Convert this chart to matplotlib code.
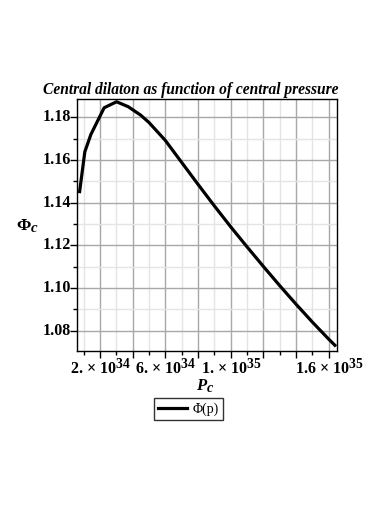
import matplotlib
matplotlib.use("Agg")
import matplotlib.pyplot as plt
from matplotlib.ticker import MultipleLocator
try:
    import matplotlib._mathtext as _mt
    _mt.SHRINK_FACTOR = 0.85
except Exception:
    pass

# Data (pressure in units of 1e34)
p_c = [0.76, 1.08, 1.45, 2.26, 3.02, 3.73, 4.50, 5.0, 6.0, 7.0, 8.0, 9.0, 10.0,
       11.0, 12.0, 13.0, 14.0, 15.0, 16.0, 16.37]
phi_c = [1.1452, 1.1639, 1.1720, 1.1845, 1.1873, 1.1850, 1.1810, 1.1776, 1.1692,
         1.1589, 1.1486, 1.1385, 1.1287, 1.1193, 1.1101, 1.1011, 1.0924, 1.0840,
         1.0760, 1.0732]
x_tick_vals = [2e34, 6e34, 1e35, 1.6e35]
x_tick_labels = [r"2. $\times$ 10$^{34}$", r"6. $\times$ 10$^{34}$",
                 r"1. $\times$ 10$^{35}$", r"1.6 $\times$ 10$^{35}$"]
y_tick_vals = [1.08, 1.10, 1.12, 1.14, 1.16, 1.18]
y_tick_labels = ["1.08", "1.10", "1.12", "1.14", "1.16", "1.18"]

plt.rcParams['mathtext.fontset'] = 'custom'
plt.rcParams['mathtext.rm'] = 'Liberation Serif:bold'
plt.rcParams['mathtext.it'] = 'Liberation Serif:bold:italic'
plt.rcParams['mathtext.bf'] = 'Liberation Serif:bold'
plt.rcParams['font.family'] = ['Liberation Serif', 'DejaVu Serif']

fig = plt.figure(figsize=(3.9, 5.05), dpi=100)
ax = fig.add_axes([77/390, 1-351/505, 260/390, 252/505])

x = [v*1e34 for v in p_c]
ax.plot(x, phi_c, color='black', lw=2.3, label="Φ(p)")

ax.set_xlim(0.6e34, 1.65e35)
ax.set_ylim(1.0705, 1.1886)

ax.xaxis.set_major_locator(MultipleLocator(2e34))
ax.xaxis.set_minor_locator(MultipleLocator(1e34))
ax.yaxis.set_major_locator(MultipleLocator(0.02))
ax.yaxis.set_minor_locator(MultipleLocator(0.01))

ax.grid(which='major', color='#a8a8a8', lw=1.0)
ax.grid(which='minor', color='#e4e4e4', lw=1.0)
ax.set_axisbelow(True)

ax.set_xticklabels([])
ax.set_yticklabels([])
for v, s in zip(x_tick_vals, x_tick_labels):
    ax.text(v, -0.03, s, transform=ax.get_xaxis_transform(), ha='center', va='top',
            fontsize=11.5, fontweight='bold')
for v, s in zip(y_tick_vals, y_tick_labels):
    ax.text(-0.022, v, s, transform=ax.get_yaxis_transform(), ha='right', va='center',
            fontsize=11.5, fontweight='bold')

ax.tick_params(which='major', direction='out', length=5, width=1, color='black',
               top=False, right=False)
ax.tick_params(which='minor', direction='out', length=3, width=1, color='black',
               top=False, right=False)
for sp in ax.spines.values():
    sp.set_color('black')
    sp.set_linewidth(1.0)

fig.text(190.5/390, 1-90/505, "Central dilaton as function of central pressure",
         ha='center', va='center', fontsize=11.2, fontweight='bold', fontstyle='italic')
fig.text(27/390, 1-226/505, r"$\Phi_c$", ha='center', va='center', fontsize=12.5)
fig.text(205/390, 1-386/505, r"$P_c$", ha='center', va='center', fontsize=12)

leg = fig.legend(loc='upper center', bbox_to_anchor=(188.5/390, 1-398/505),
                 frameon=True, fancybox=False, edgecolor='black',
                 handlelength=2.1, borderpad=0.3, handletextpad=0.4, borderaxespad=0,
                 prop={'family': 'Liberation Serif', 'size': 10})
leg.get_frame().set_linewidth(1.0)

fig.savefig("out.png", dpi=100)
